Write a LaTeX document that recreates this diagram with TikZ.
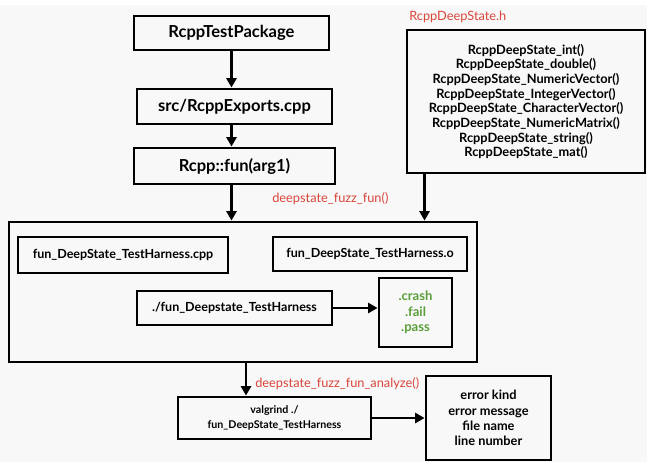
\documentclass[tikz,border=0pt]{standalone}
\usepackage{fontspec}
\setmainfont{Lato}
\usetikzlibrary{arrows.meta,positioning}
\definecolor{bg}{HTML}{F8F8F8}
\definecolor{lblred}{HTML}{D9453A}
\definecolor{okgreen}{HTML}{5A9E3A}
\begin{document}
\begin{tikzpicture}[x=0.75pt,y=-0.75pt,
  box/.style={draw=black,line width=2.2pt,fill=bg,inner sep=0pt,align=center,font=\bfseries},
  arr/.style={line width=2pt,-{Triangle[length=7pt,width=7.5pt]}},
  lbl/.style={text=lblred,font=\fontsize{9.6}{11}\selectfont,anchor=west,inner sep=0pt}]
\useasboundingbox (0,0) rectangle (647,462);
\fill[white] (0,0) rectangle (647,462);
\fill[bg] (0,5) rectangle (647,462);
% top chain
\node[box,minimum width=195*0.75pt,minimum height=34*0.75pt,font=\bfseries\fontsize{12.4}{14}\selectfont] (pkg) at (231.5,33) {RcppTestPackage};
\node[box,minimum width=195*0.75pt,minimum height=35*0.75pt,font=\bfseries\fontsize{12.4}{14}\selectfont] (exp) at (234.5,106.5) {src/RcppExports.cpp};
\node[box,minimum width=201*0.75pt,minimum height=36*0.75pt,font=\bfseries\fontsize{12.4}{14}\selectfont] (fun) at (234.5,166) {Rcpp::fun(arg1)};
% header box
\node[box,minimum width=238*0.75pt,minimum height=143*0.75pt,font=\bfseries\fontsize{9.6}{11}\selectfont] (hdr) at (526,101.5) {RcppDeepState\_int()\\RcppDeepState\_double()\\RcppDeepState\_NumericVector()\\RcppDeepState\_IntegerVector()\\RcppDeepState\_CharacterVector()\\RcppDeepState\_NumericMatrix()\\RcppDeepState\_string()\\RcppDeepState\_mat()};
\node[lbl] (hlbl) at (409,17) {RcppDeepState.h};
% big box
\node[box,minimum width=468*0.75pt,minimum height=140*0.75pt] (big) at (243,292) {};
\node[box,minimum width=210*0.75pt,minimum height=36*0.75pt,font=\bfseries\fontsize{9.4}{11}\selectfont] (cpp) at (123,255) {fun\_DeepState\_TestHarness.cpp};
\node[box,minimum width=194*0.75pt,minimum height=34*0.75pt,font=\bfseries\fontsize{9.4}{11}\selectfont] (obj) at (370,254) {fun\_DeepState\_TestHarness.o};
\node[box,minimum width=195*0.75pt,minimum height=34*0.75pt,font=\bfseries\fontsize{9.4}{11}\selectfont] (run) at (234.5,308) {./fun\_Deepstate\_TestHarness};
\node[box,minimum width=73*0.75pt,minimum height=69*0.75pt,text=okgreen,font=\bfseries\fontsize{9.8}{11.5}\selectfont] (res) at (415.5,312.5) {.crash\\.fail\\.pass};
\node[lbl] (flbl) at (272,199) {deepstate\_fuzz\_fun()};
% bottom
\node[box,minimum width=193*0.75pt,minimum height=42*0.75pt,font=\bfseries\fontsize{8}{11}\selectfont] (val) at (274.5,418) {valgrind ./\\fun\_DeepState\_TestHarness};
\node[box,minimum width=125*0.75pt,minimum height=84*0.75pt,font=\bfseries\fontsize{9.6}{11.5}\selectfont] (err) at (488.5,418) {error kind\\error message\\file name\\line number};
\node[lbl] (albl) at (255,384) {deepstate\_fuzz\_fun\_analyze()};
% arrows
\draw[arr] (pkg.south) -- (pkg.south |- exp.north);
\draw[arr] (pkg.south |- exp.south) -- (pkg.south |- fun.north);
\draw[arr] (pkg.south |- fun.south) -- (pkg.south |- big.north);
\coordinate (hdrout) at ([xshift=19*0.75pt]hdr.south west);
\draw[arr] (hdrout) -- (hdrout |- big.north);
\draw[arr] (run.east) -- (run.east -| res.west);
\draw[arr] ([xshift=3*0.75pt]big.south) -- ([xshift=3*0.75pt]big.south |- val.north);
\draw[arr] (val.east) -- (val.east -| err.west);
\end{tikzpicture}
\end{document}
